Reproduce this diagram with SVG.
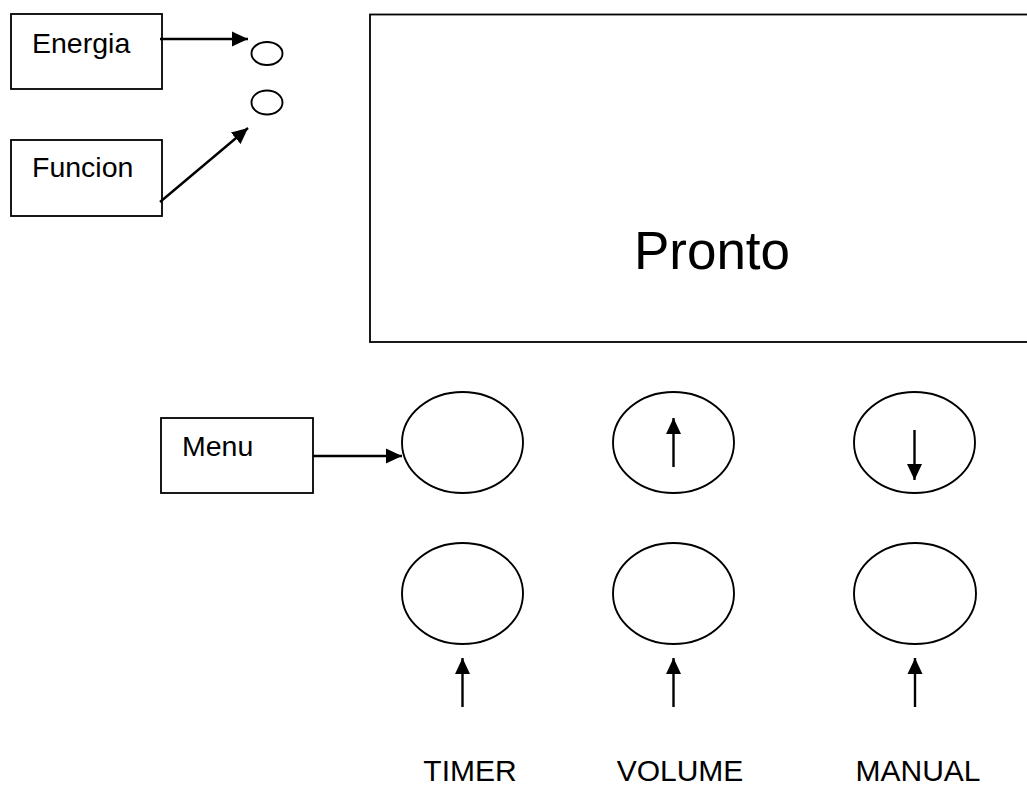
<svg xmlns="http://www.w3.org/2000/svg" width="1027" height="785" viewBox="0 0 1027 785">
  <style>
    .box { fill: #fff; stroke: #000; stroke-width: 1.8; }
    .btn { fill: #fff; stroke: #000; stroke-width: 1.9; }
    .lbl { font-family: "Liberation Sans", Arial, sans-serif; font-size: 28.5px; fill: #000; }
    .cap { font-family: "Liberation Sans", Arial, sans-serif; font-size: 30px; fill: #000; text-anchor: middle; }
    .arr { stroke: #000; stroke-width: 2.4; fill: none; marker-end: url(#ah); }
  </style>
  <defs>
    <marker id="ah" markerUnits="userSpaceOnUse" markerWidth="16" markerHeight="16" viewBox="0 0 16 16" refX="16" refY="8" orient="auto">
      <path d="M0,0.5 L16,8 L0,15.5 Z" fill="#000"/>
    </marker>
  </defs>
  <rect width="1027" height="785" fill="#fff"/>

  <g id="energia">
    <rect class="box" x="11" y="14" width="151" height="75"/>
    <text class="lbl" x="32" y="53">Energia</text>
  </g>
  <g id="funcion">
    <rect class="box" x="11" y="140" width="151" height="76"/>
    <text class="lbl" x="32" y="177">Funcion</text>
  </g>
  <g id="led1"><ellipse class="btn" cx="267" cy="53.5" rx="15.5" ry="11.5"/></g>
  <g id="led2"><ellipse class="btn" cx="267" cy="102.5" rx="15.5" ry="12"/></g>

  <g id="display">
    <rect class="box" x="370" y="14.5" width="680" height="327.5"/>
    <text x="712" y="269" font-family="Liberation Sans, Arial, sans-serif" font-size="53" text-anchor="middle">Pronto</text>
  </g>

  <g id="menu">
    <rect class="box" x="161" y="418" width="152" height="75"/>
    <text class="lbl" x="182" y="456">Menu</text>
  </g>

  <g id="btn-menu"><ellipse class="btn" cx="462.5" cy="442.5" rx="60.5" ry="50.5"/></g>
  <g id="btn-up"><ellipse class="btn" cx="673.5" cy="442.5" rx="60.5" ry="50.5"/></g>
  <g id="btn-down"><ellipse class="btn" cx="914.5" cy="442.5" rx="60.5" ry="50.5"/></g>
  <g id="btn-timer"><ellipse class="btn" cx="462.5" cy="593.5" rx="60.5" ry="50.5"/></g>
  <g id="btn-volume"><ellipse class="btn" cx="673.5" cy="593.5" rx="60.5" ry="50.5"/></g>
  <g id="btn-manual"><ellipse class="btn" cx="915" cy="593.5" rx="61" ry="50.5"/></g>

  <g id="label-timer"><text class="cap" x="470" y="781">TIMER</text></g>
  <g id="label-volume"><text class="cap" x="680" y="781">VOLUME</text></g>
  <g id="label-manual"><text class="cap" x="918" y="781">MANUAL</text></g>

  <g id="connectors">
    <line class="arr" x1="160" y1="39" x2="248" y2="39"/>
    <line class="arr" x1="160" y1="202" x2="248" y2="128"/>
    <line class="arr" x1="313" y1="456" x2="402" y2="456"/>
    <line class="arr" x1="673.5" y1="467" x2="673.5" y2="418"/>
    <line class="arr" x1="914.5" y1="430" x2="914.5" y2="480"/>
    <line class="arr" x1="462.5" y1="707" x2="462.5" y2="658"/>
    <line class="arr" x1="673.5" y1="707" x2="673.5" y2="658"/>
    <line class="arr" x1="915" y1="707" x2="915" y2="658"/>
  </g>
</svg>
